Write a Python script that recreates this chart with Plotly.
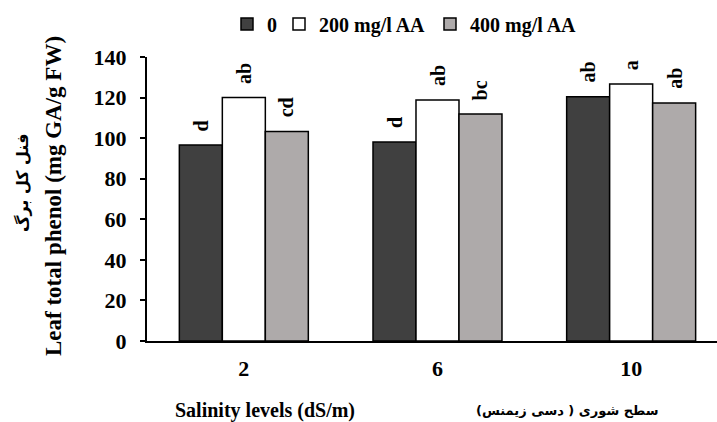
import plotly.graph_objects as go

categories = ["2", "6", "10"]
series_names = ["0", "200 mg/l AA", "400 mg/l AA"]
vals_0 = [96.6, 98.1, 120.4]
vals_200 = [120.0, 118.8, 126.7]
vals_400 = [103.3, 111.9, 117.3]
letters_0 = ["d", "d", "ab"]
letters_200 = ["ab", "ab", "a"]
letters_400 = ["cd", "bc", "ab"]

colors = ["#404040", "#FFFFFF", "#AEAAAA"]
series = [vals_0, vals_200, vals_400]
letters = [letters_0, letters_200, letters_400]

serif = "Liberation Serif"
xpos = list(range(len(categories)))
bargap = 0.334
bw = (1 - bargap) / 3

L, R, T, B = 147, 717, 57, 341
PW, PH = R - L, B - T


def px(xp):
    return (xp - L) / PW


def py(yp):
    return (B - yp) / PH


legend_ids = ["legend", "legend2", "legend3"]
legend_left = [227, 279, 430]

fig = go.Figure()
for name, vals, col, lid in zip(series_names, series, colors, legend_ids):
    fig.add_trace(go.Bar(
        x=xpos, y=vals, name=name, legend=lid, showlegend=True,
        marker=dict(color=col, line=dict(color="black", width=1.5)),
    ))

annotations = []
for si, (vals, labs) in enumerate(zip(series, letters)):
    off = (si - 1) * bw
    for gi, (v, lab) in enumerate(zip(vals, labs)):
        annotations.append(dict(
            x=gi + off, y=v, xref="x", yref="y", text=lab,
            textangle=-90, showarrow=False, yanchor="bottom",
            yshift=12, font=dict(family=serif, size=20, color="black", weight="bold"),
        ))

annotations.append(dict(
    x=px(265), y=py(410), xref="paper", yref="paper", text="Salinity levels (dS/m)",
    showarrow=False, xanchor="center", yanchor="middle",
    font=dict(family=serif, size=20, color="black", weight="bold"),
))
annotations.append(dict(
    x=px(567), y=py(410), xref="paper", yref="paper",
    text="سطح شوری ( دسی زیمنس)", showarrow=False, xanchor="center", yanchor="middle",
    font=dict(family="DejaVu Sans", size=13, color="black", weight="bold"),
))
annotations.append(dict(
    x=px(53), y=py(196), xref="paper", yref="paper",
    text="Leaf total phenol (mg GA/g FW)", showarrow=False, textangle=-90,
    xanchor="center", yanchor="middle",
    font=dict(family=serif, size=23, color="black", weight="bold"),
))
annotations.append(dict(
    x=px(22), y=py(183), xref="paper", yref="paper",
    text="فنل کل برگ", showarrow=False, textangle=-90,
    xanchor="center", yanchor="middle",
    font=dict(family="DejaVu Sans", size=16, color="black", weight="bold"),
))

legend_style = dict(orientation="h", xanchor="left", y=py(24), yanchor="middle",
                    font=dict(family=serif, size=20, weight="bold", color="black"),
                    itemwidth=30, bgcolor="rgba(0,0,0,0)", visible=True)

fig.update_layout(
    width=717, height=422, showlegend=True,
    margin=dict(l=L, r=717 - R, t=T, b=422 - B),
    paper_bgcolor="white", plot_bgcolor="white",
    barmode="group", bargap=bargap, bargroupgap=0,
    font=dict(family=serif, color="black", size=20, weight="bold"),
    legend=dict(x=px(legend_left[0]), **legend_style),
    legend2=dict(x=px(legend_left[1]), **legend_style),
    legend3=dict(x=px(legend_left[2]), **legend_style),
    annotations=annotations,
    xaxis=dict(range=[-0.5, 2 + (717 - 631) / 194], tickvals=xpos, ticktext=categories,
               showline=True, linecolor="black", linewidth=2, ticks="",
               showgrid=False, zeroline=False, ticklabelstandoff=7,
               tickfont=dict(family=serif, size=22, weight="bold")),
    yaxis=dict(range=[0, 140], dtick=20, showline=True, linecolor="black", linewidth=2,
               ticks="outside", ticklen=5, tickwidth=1.5, tickcolor="black",
               showgrid=False, zeroline=False, ticklabelstandoff=9,
               tickfont=dict(family=serif, size=22, weight="bold")),
)

fig.write_html("out.html", config={"displayModeBar": False},
               post_script="document.body.style.margin='0';")
